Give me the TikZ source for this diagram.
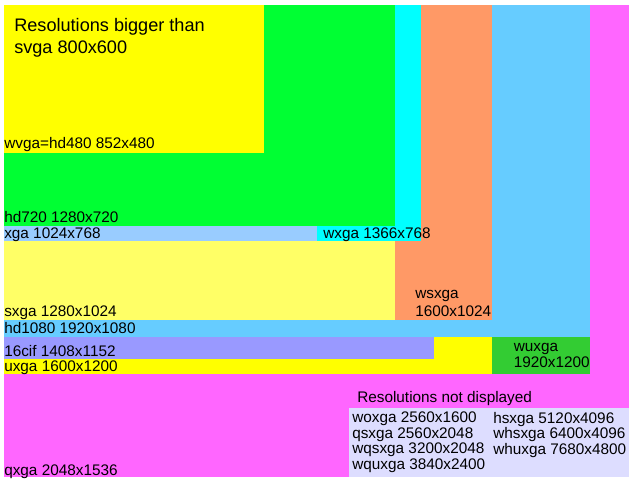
\documentclass[tikz,border=0pt]{standalone}
\usepackage{fontspec}
\setmainfont{Liberation Sans}
\usepackage{tikz}
\definecolor{qxgapink}{RGB}{255, 102, 255}
\definecolor{wuxgagreen}{RGB}{51, 204, 51}
\definecolor{uxgayellow}{RGB}{255, 255, 0}
\definecolor{cifpurple}{RGB}{153, 153, 255}
\definecolor{hdblue}{RGB}{102, 204, 255}
\definecolor{wsxgaorange}{RGB}{255, 153, 102}
\definecolor{sxgayellow}{RGB}{255, 255, 102}
\definecolor{wxgacyan}{RGB}{0, 255, 255}
\definecolor{xgablue}{RGB}{153, 204, 255}
\definecolor{hdgreen}{RGB}{0, 255, 51}
\definecolor{wvgayellow}{RGB}{255, 255, 0}
\definecolor{hiddenlilac}{RGB}{221, 221, 255}

\begin{document}
\begin{tikzpicture}[
    x=0.75pt, y=-0.75pt,
    lbl/.style={anchor=base west, inner sep=0pt, align=left, font=\fontsize{11.5}{13.5}\selectfont},
    title/.style={anchor=base west, inner sep=0pt, align=left, font=\fontsize{13.6}{15.8}\selectfont},
    table/.style={anchor=base west, inner sep=0pt, align=left, font=\fontsize{11.5}{11.6}\selectfont}
]
\useasboundingbox[fill=white] (0,0) rectangle (635,482);

% Resolutions, in their own pixels, biggest at the bottom
\begin{scope}[shift={(4,5)}, x=0.2289pt, y=-0.2306pt]
  \fill[qxgapink]    (0,0) rectangle (2048,1536);
  \fill[wuxgagreen]  (0,0) rectangle (1920,1200);
  \fill[uxgayellow]  (0,0) rectangle (1600,1200);
  \fill[cifpurple]   (0,0) rectangle (1408,1152);
  \fill[hdblue]      (0,0) rectangle (1920,1080);
  \fill[wsxgaorange] (0,0) rectangle (1600,1024);
  \fill[sxgayellow]  (0,0) rectangle (1280,1024);
  \fill[wxgacyan]    (0,0) rectangle (1366,768);
  \fill[xgablue]     (0,0) rectangle (1024,768);
  \fill[hdgreen]     (0,0) rectangle (1280,720);
  \fill[wvgayellow]  (0,0) rectangle (852,480);
\end{scope}

% Box of the big ones
\fill[hiddenlilac] (349,408) rectangle (629,477);

% Labels (multi-line ones sit on their last line)
\node[title] (head) at (14,53) {Resolutions bigger than\\svga 800x600};
\node[lbl] (wvga) at (4,148) {wvga=hd480 852x480};
\node[lbl] (hd720) at (4,222.5) {hd720 1280x720};
\node[lbl] (xga) at (4,238) {xga 1024x768};
\node[lbl] (wxga) at (323,238) {wxga 1366x768};
\node[lbl] (sxga) at (4,316) {sxga 1280x1024};
\node[lbl] (wsxga) at (415,316) {wsxga\\1600x1024};
\node[lbl] (hd1080) at (4,333) {hd1080 1920x1080};
\node[lbl] (cif) at (4,356) {16cif 1408x1152};
\node[lbl] (uxga) at (4,371.5) {uxga 1600x1200};
\node[lbl] (wuxga) at (513.5,367) {wuxga\\[-2pt]1920x1200};
\node[lbl] (qxga) at (4,475) {qxga 2048x1536};

% Not displayed
\node[lbl] (hidden) at (357,402) {Resolutions not displayed};
\node[table] (hiddenleft) at (352,469) {woxga 2560x1600\\qsxga 2560x2048\\wqsxga 3200x2048\\wquxga 3840x2400};
\node[table] (hiddenright) at (493,454) {hsxga 5120x4096\\whsxga 6400x4096\\whuxga 7680x4800};

\end{tikzpicture}
\end{document}
